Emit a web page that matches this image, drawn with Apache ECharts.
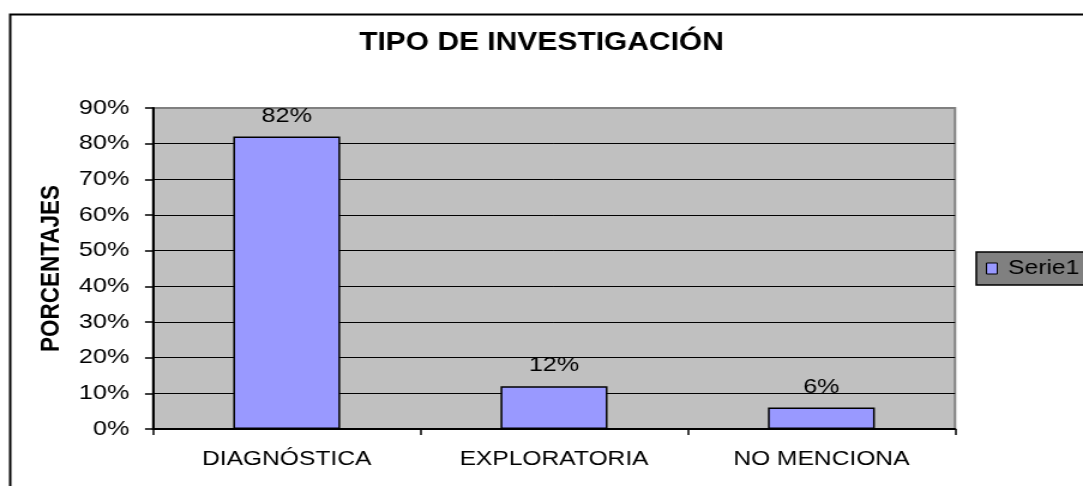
<!DOCTYPE html>
<html>
<head>
<meta charset="utf-8">
<script src="https://cdn.jsdelivr.net/npm/echarts@6/dist/echarts.min.js"></script>
<style>
  html, body { margin: 0; padding: 0; background: #fff; overflow: hidden; }
  #wrap { width: 1083px; height: 486px; overflow: hidden; position: relative; }
  #chart { width: 903px; height: 486px; transform: scaleX(1.19934); transform-origin: 0 0; }
</style>
</head>
<body>
<div id="wrap"><div id="chart"></div></div>
<script>
const titleText = 'TIPO DE INVESTIGACIÓN';
const yAxisName = 'PORCENTAJES';
const seriesName = 'Serie1';
const categories = ['DIAGNÓSTICA', 'EXPLORATORIA', 'NO MENCIONA'];
const values = [82, 12, 6];
const yMin = 0, yMax = 90, yStep = 10;

const FONT = '"Liberation Sans", Arial, sans-serif';
const chart = echarts.init(document.getElementById('chart'));
const splitColors = [];
for (let v = yMin; v <= yMax; v += yStep) splitColors.push(v === yMax ? '#808080' : '#000000');

chart.setOption({
  animation: false,
  backgroundColor: '#ffffff',
  textStyle: { fontFamily: FONT, color: '#000' },
  graphic: [{
    type: 'rect', left: 6, top: 12, silent: true,
    shape: { width: 2000, height: 1000 },
    style: { fill: 'none', stroke: '#000', lineWidth: 2 }
  }],
  title: {
    text: titleText, left: 'center', top: 31, padding: 0,
    textStyle: { fontFamily: FONT, fontSize: 25, fontWeight: 'bold', color: '#000' }
  },
  legend: {
    data: [seriesName], left: 814, top: 252, orient: 'vertical',
    backgroundColor: '#808080', borderColor: '#000', borderWidth: 1.5,
    padding: [6, 40, 6, 8], itemWidth: 9, itemHeight: 11, itemGap: 5, icon: 'rect',
    itemStyle: { borderColor: '#000', borderWidth: 1 },
    formatter: function (name) { return '\u2009' + name; },
    textStyle: { fontFamily: FONT, fontSize: 20.5, color: '#000' }
  },
  grid: {
    left: 127.6, right: 106.7, top: 108, bottom: 57,
    show: true, backgroundColor: '#C0C0C0', borderColor: '#808080', borderWidth: 2,
    containLabel: false
  },
  xAxis: {
    type: 'category', data: categories,
    axisLine: { lineStyle: { color: '#000', width: 2 } },
    axisTick: { show: true, length: 6, alignWithLabel: false, lineStyle: { color: '#000', width: 1.5 } },
    axisLabel: { margin: 20, fontFamily: FONT, fontSize: 20.5, color: '#000' },
    splitLine: { show: false }
  },
  yAxis: {
    type: 'value', min: yMin, max: yMax, interval: yStep,
    name: yAxisName, nameLocation: 'middle', nameGap: 73, nameRotate: 90,
    nameTextStyle: { fontFamily: FONT, fontSize: 22.5, fontWeight: 'bold', color: '#000' },
    axisLine: { show: true, lineStyle: { color: '#000', width: 2 } },
    axisTick: { show: true, length: 6.7, lineStyle: { color: '#000', width: 1.5 } },
    axisLabel: { formatter: '{value}%', margin: 19.7, fontFamily: FONT, fontSize: 21, color: '#000' },
    splitLine: { show: true, lineStyle: { color: splitColors, width: 1 } }
  },
  series: [{
    name: seriesName, type: 'bar', data: values, barWidth: '40%',
    itemStyle: { color: '#9999FF', borderColor: '#000', borderWidth: 1.5 },
    label: {
      show: true, position: 'top', distance: 10, formatter: '{c}%',
      fontFamily: FONT, fontSize: 21, color: '#000'
    }
  }]
});
</script>
</body>
</html>
